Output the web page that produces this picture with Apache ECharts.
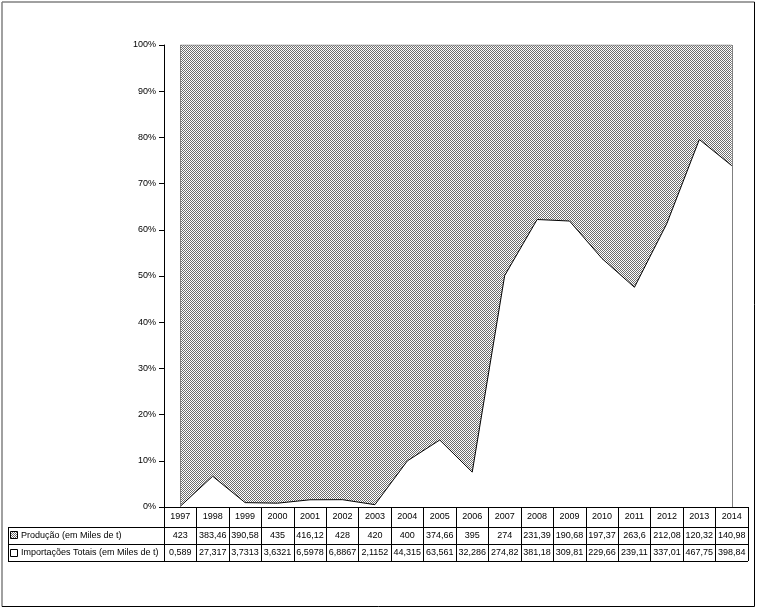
<!DOCTYPE html>
<html><head><meta charset="utf-8">
<script src="https://cdn.jsdelivr.net/npm/echarts@6/dist/echarts.min.js"></script>
<style>html,body{margin:0;padding:0;background:#fff}#c{width:757px;height:610px}</style>
</head><body><div id="c"></div>
<script>
const years = ['1997','1998','1999','2000','2001','2002','2003','2004','2005','2006','2007','2008','2009','2010','2011','2012','2013','2014'];
const producao = [423, 383.46, 390.58, 435, 416.12, 428, 420, 400, 374.66, 395, 274, 231.39, 190.68, 197.37, 263.6, 212.08, 120.32, 140.98];
const importacoes = [0.589, 27.317, 3.7313, 3.6321, 6.5978, 6.8867, 2.1152, 44.315, 63.561, 32.286, 274.82, 381.18, 309.81, 229.66, 239.11, 337.01, 467.75, 398.84];
const seriesNames = ['Produção (em Miles de t)', 'Importações Totais (em Miles de t)'];

// 100% stacked shares
const impShare = importacoes.map((v, i) => v / (v + producao[i]) * 100);
const prodShare = producao.map((v, i) => v / (v + importacoes[i]) * 100);
const fmt = v => String(v).replace('.', ',');

const FONT = 'Liberation Sans, Arial, sans-serif';
const FS = 9;

// checkerboard pattern
const pc = document.createElement('canvas'); pc.width = 2; pc.height = 2;
const g = pc.getContext('2d');
g.fillStyle = '#fff'; g.fillRect(0, 0, 2, 2);
g.fillStyle = '#6e6e6e'; g.fillRect(0, 0, 1, 1); g.fillRect(1, 1, 1, 1);
const pattern = { image: pc, repeat: 'repeat' };

const chart = echarts.init(document.getElementById('c'), null, { renderer: 'canvas' });

const GL = 164, GR = 9, GT = 45, GB = 103;
const W = 757, H = 610;
const axisY = H - GB;           // 507
const rowY1 = axisY + 19.5, rowY2 = rowY1 + 17.5, rowY3 = rowY2 + 17; // 526.5, 544, 561
const tableL = 8, tableR = W - GR;
const FR = 754.5, FB = 606.5;

const graphic = [
  // outer frame
  { type: 'line', shape: { x1: 2, y1: 2, x2: FR, y2: 2 }, style: { stroke: '#808080', lineWidth: 1.5 }, silent: true },
  { type: 'line', shape: { x1: 2, y1: 2, x2: 2, y2: FB }, style: { stroke: '#808080', lineWidth: 1.5 }, silent: true },
  { type: 'line', shape: { x1: FR, y1: 2, x2: FR, y2: FB }, style: { stroke: '#000', lineWidth: 1 }, silent: true },
  { type: 'line', shape: { x1: 2, y1: FB, x2: FR, y2: FB }, style: { stroke: '#000', lineWidth: 1 }, silent: true },
  // table horizontal lines
  { type: 'line', shape: { x1: tableL, y1: Math.round(rowY1) + 0.5, x2: tableR, y2: Math.round(rowY1) + 0.5 }, style: { stroke: '#000', lineWidth: 1 }, silent: true },
  { type: 'line', shape: { x1: tableL, y1: Math.round(rowY2) + 0.5, x2: tableR, y2: Math.round(rowY2) + 0.5 }, style: { stroke: '#000', lineWidth: 1 }, silent: true },
  { type: 'line', shape: { x1: tableL, y1: Math.round(rowY3) + 0.5, x2: tableR, y2: Math.round(rowY3) + 0.5 }, style: { stroke: '#000', lineWidth: 1 }, silent: true },
  { type: 'line', shape: { x1: tableL + 0.5, y1: Math.round(rowY1) + 0.5, x2: tableL + 0.5, y2: Math.round(rowY3) + 0.5 }, style: { stroke: '#000', lineWidth: 1 }, silent: true },
  // legend keys
  { type: 'rect', shape: { x: 10.5, y: Math.round((rowY1 + rowY2) / 2) - 3.5, width: 7, height: 7 }, style: { fill: pattern, stroke: '#000', lineWidth: 1 }, silent: true },
  { type: 'rect', shape: { x: 10.5, y: Math.round((rowY2 + rowY3) / 2) - 3.5, width: 7, height: 7 }, style: { fill: '#fff', stroke: '#000', lineWidth: 1 }, silent: true },
  { type: 'text', x: 21, y: (rowY1 + rowY2) / 2, style: { text: seriesNames[0], font: FS + 'px ' + FONT, fill: '#000', verticalAlign: 'middle' }, silent: true },
  { type: 'text', x: 21, y: (rowY2 + rowY3) / 2, style: { text: seriesNames[1], font: FS + 'px ' + FONT, fill: '#000', verticalAlign: 'middle' }, silent: true }
];

chart.setOption({
  animation: false,
  backgroundColor: '#fff',
  textStyle: { fontFamily: FONT },
  grid: { left: GL, right: GR, top: GT, bottom: GB, containLabel: false },
  xAxis: {
    type: 'category',
    data: years,
    boundaryGap: true,
    axisLine: { show: true, lineStyle: { color: '#000', width: 1 } },
    axisTick: { show: true, interval: 0, length: rowY3 - axisY, lineStyle: { color: '#000', width: 1 } },
    axisLabel: {
      interval: 0, margin: 0, hideOverlap: false,
      fontSize: FS, fontFamily: FONT, color: '#000',
      formatter: (v, i) => '{y|' + v + '}\n{p|' + fmt(producao[i]) + '}\n{i|' + fmt(importacoes[i]) + '}',
      rich: {
        y: { fontSize: FS, fontFamily: FONT, color: '#000', lineHeight: 19.5, height: 19.5 },
        p: { fontSize: FS, fontFamily: FONT, color: '#000', lineHeight: 17.5, height: 17.5 },
        i: { fontSize: FS, fontFamily: FONT, color: '#000', lineHeight: 17, height: 17 }
      }
    },
    splitLine: { show: false }
  },
  yAxis: {
    type: 'value', min: 0, max: 100, interval: 10,
    axisLine: { show: true, lineStyle: { color: '#000', width: 1 } },
    axisTick: { show: true, length: 5, lineStyle: { color: '#000' } },
    axisLabel: { formatter: '{value}%', fontSize: FS, fontFamily: FONT, color: '#000', margin: 8 },
    splitLine: { show: false }
  },
  series: [
    {
      name: seriesNames[1], type: 'line', stack: 'total', data: impShare,
      symbol: 'none', z: 4,
      lineStyle: { color: '#000', width: 1 },
      areaStyle: { color: '#fff', opacity: 1 }
    },
    {
      name: seriesNames[0], type: 'line', stack: 'total', data: prodShare,
      symbol: 'none', z: 2,
      lineStyle: { color: '#808080', width: 1 },
      areaStyle: { color: pattern, opacity: 1 },
      markLine: {
        silent: true, symbol: 'none', label: { show: false },
        lineStyle: { color: '#808080', type: 'solid', width: 1 },
        data: [{ xAxis: years[0] }, { xAxis: years[years.length - 1] }]
      }
    }
  ],
  graphic: graphic
});
</script>
</body></html>
